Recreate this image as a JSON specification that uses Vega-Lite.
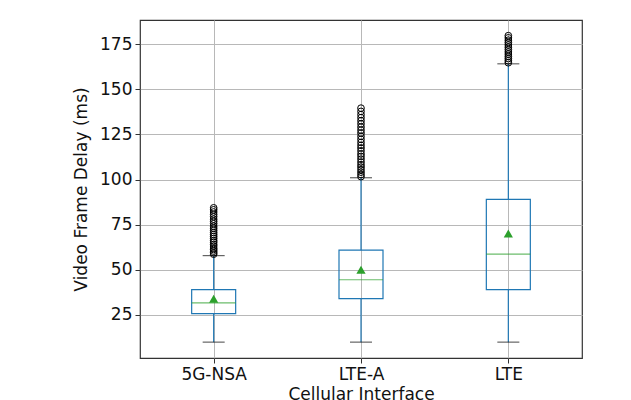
{
  "$schema": "https://vega.github.io/schema/vega-lite/v6.json",
  "width": 442,
  "height": 338,
  "autosize": "none",
  "padding": {"left": 140, "top": 20, "right": 49, "bottom": 42},
  "background": "white",
  "config": {
    "font": "DejaVu Sans",
    "view": {"stroke": "#333333", "strokeWidth": 1.2},
    "axis": {
      "labelFont": "DejaVu Sans",
      "titleFont": "DejaVu Sans",
      "labelFontSize": 17,
      "titleFontSize": 17,
      "labelColor": "#111111",
      "titleColor": "#111111",
      "titleFontWeight": "normal",
      "domain": false,
      "tickColor": "#333333",
      "tickSize": 5,
      "grid": true,
      "gridColor": "#b8b8b8",
      "gridWidth": 1
    }
  },
  "datasets": {
    "stats": [
      {"iface": "5G-NSA", "lo": 9.8, "q1": 25.6, "med": 31.6, "q3": 38.9, "hi": 57.8, "mean": 33.9},
      {"iface": "LTE-A", "lo": 9.8, "q1": 33.9, "med": 44.4, "q3": 60.8, "hi": 101.0, "mean": 50.0},
      {"iface": "LTE", "lo": 9.8, "q1": 38.9, "med": 58.6, "q3": 89.0, "hi": 164.2, "mean": 70.0}
    ],
    "outliers": [
      {"iface": "5G-NSA", "v": 58.6}, {"iface": "5G-NSA", "v": 59.4}, {"iface": "5G-NSA", "v": 60.3},
      {"iface": "5G-NSA", "v": 61.2}, {"iface": "5G-NSA", "v": 62.0}, {"iface": "5G-NSA", "v": 63.1},
      {"iface": "5G-NSA", "v": 64.0}, {"iface": "5G-NSA", "v": 65.2}, {"iface": "5G-NSA", "v": 66.1},
      {"iface": "5G-NSA", "v": 67.3}, {"iface": "5G-NSA", "v": 68.4}, {"iface": "5G-NSA", "v": 69.5},
      {"iface": "5G-NSA", "v": 70.6}, {"iface": "5G-NSA", "v": 71.8}, {"iface": "5G-NSA", "v": 73.0},
      {"iface": "5G-NSA", "v": 74.1}, {"iface": "5G-NSA", "v": 75.5}, {"iface": "5G-NSA", "v": 76.8},
      {"iface": "5G-NSA", "v": 78.0}, {"iface": "5G-NSA", "v": 79.4}, {"iface": "5G-NSA", "v": 80.7},
      {"iface": "5G-NSA", "v": 82.0}, {"iface": "5G-NSA", "v": 83.2}, {"iface": "5G-NSA", "v": 84.3},
      {"iface": "LTE-A", "v": 101.6}, {"iface": "LTE-A", "v": 102.8}, {"iface": "LTE-A", "v": 104.1},
      {"iface": "LTE-A", "v": 105.5}, {"iface": "LTE-A", "v": 106.9}, {"iface": "LTE-A", "v": 108.2},
      {"iface": "LTE-A", "v": 109.7}, {"iface": "LTE-A", "v": 111.3}, {"iface": "LTE-A", "v": 112.8},
      {"iface": "LTE-A", "v": 114.2}, {"iface": "LTE-A", "v": 115.9}, {"iface": "LTE-A", "v": 117.5},
      {"iface": "LTE-A", "v": 119.0}, {"iface": "LTE-A", "v": 120.6}, {"iface": "LTE-A", "v": 122.3},
      {"iface": "LTE-A", "v": 124.0}, {"iface": "LTE-A", "v": 125.8}, {"iface": "LTE-A", "v": 127.4},
      {"iface": "LTE-A", "v": 129.1}, {"iface": "LTE-A", "v": 130.9}, {"iface": "LTE-A", "v": 132.6},
      {"iface": "LTE-A", "v": 134.3}, {"iface": "LTE-A", "v": 136.0}, {"iface": "LTE-A", "v": 137.8},
      {"iface": "LTE-A", "v": 139.6},
      {"iface": "LTE", "v": 164.8}, {"iface": "LTE", "v": 165.9}, {"iface": "LTE", "v": 167.1},
      {"iface": "LTE", "v": 168.3}, {"iface": "LTE", "v": 169.6}, {"iface": "LTE", "v": 170.8},
      {"iface": "LTE", "v": 172.1}, {"iface": "LTE", "v": 173.4}, {"iface": "LTE", "v": 174.7},
      {"iface": "LTE", "v": 176.0}, {"iface": "LTE", "v": 177.3}, {"iface": "LTE", "v": 178.6},
      {"iface": "LTE", "v": 179.8}
    ]
  },
  "encoding": {
    "x": {
      "field": "iface",
      "type": "nominal",
      "sort": ["5G-NSA", "LTE-A", "LTE"],
      "scale": {"type": "point", "padding": 0.5, "domain": ["5G-NSA", "LTE-A", "LTE"]},
      "axis": {"title": "Cellular Interface", "labelAngle": 0, "labelPadding": 3, "titlePadding": 4}
    }
  },
  "layer": [
    {
      "data": {"name": "stats"},
      "mark": {"type": "rule", "color": "#1f77b4", "strokeWidth": 1.2},
      "encoding": {
        "y": {
          "field": "lo",
          "type": "quantitative",
          "scale": {"domain": [1, 188.5], "nice": false, "zero": false},
          "axis": {"title": "Video Frame Delay (ms)", "values": [25, 50, 75, 100, 125, 150, 175], "labelPadding": 3, "titlePadding": 9}
        },
        "y2": {"field": "q1"}
      }
    },
    {
      "data": {"name": "stats"},
      "mark": {"type": "rule", "color": "#1f77b4", "strokeWidth": 1.2},
      "encoding": {"y": {"field": "q3", "type": "quantitative"}, "y2": {"field": "hi"}}
    },
    {
      "data": {"name": "stats"},
      "mark": {"type": "bar", "width": 44, "fill": "white", "fillOpacity": 0, "stroke": "#1f77b4", "strokeWidth": 1.2},
      "encoding": {"y": {"field": "q1", "type": "quantitative"}, "y2": {"field": "q3"}}
    },
    {
      "data": {"name": "stats"},
      "mark": {"type": "tick", "color": "#222222", "size": 22, "thickness": 1.2, "orient": "horizontal"},
      "encoding": {"y": {"field": "lo", "type": "quantitative"}}
    },
    {
      "data": {"name": "stats"},
      "mark": {"type": "tick", "color": "#222222", "size": 22, "thickness": 1.2, "orient": "horizontal"},
      "encoding": {"y": {"field": "hi", "type": "quantitative"}}
    },
    {
      "data": {"name": "stats"},
      "mark": {"type": "tick", "color": "#2ca02c", "size": 44, "thickness": 1.2, "orient": "horizontal"},
      "encoding": {"y": {"field": "med", "type": "quantitative"}}
    },
    {
      "data": {"name": "outliers"},
      "mark": {"type": "point", "shape": "circle", "filled": false, "stroke": "#000000", "strokeWidth": 1, "size": 45, "opacity": 1},
      "encoding": {"y": {"field": "v", "type": "quantitative"}}
    },
    {
      "data": {"name": "stats"},
      "mark": {"type": "point", "shape": "triangle-up", "filled": true, "color": "#2ca02c", "size": 85, "opacity": 1},
      "encoding": {"y": {"field": "mean", "type": "quantitative"}}
    }
  ]
}
